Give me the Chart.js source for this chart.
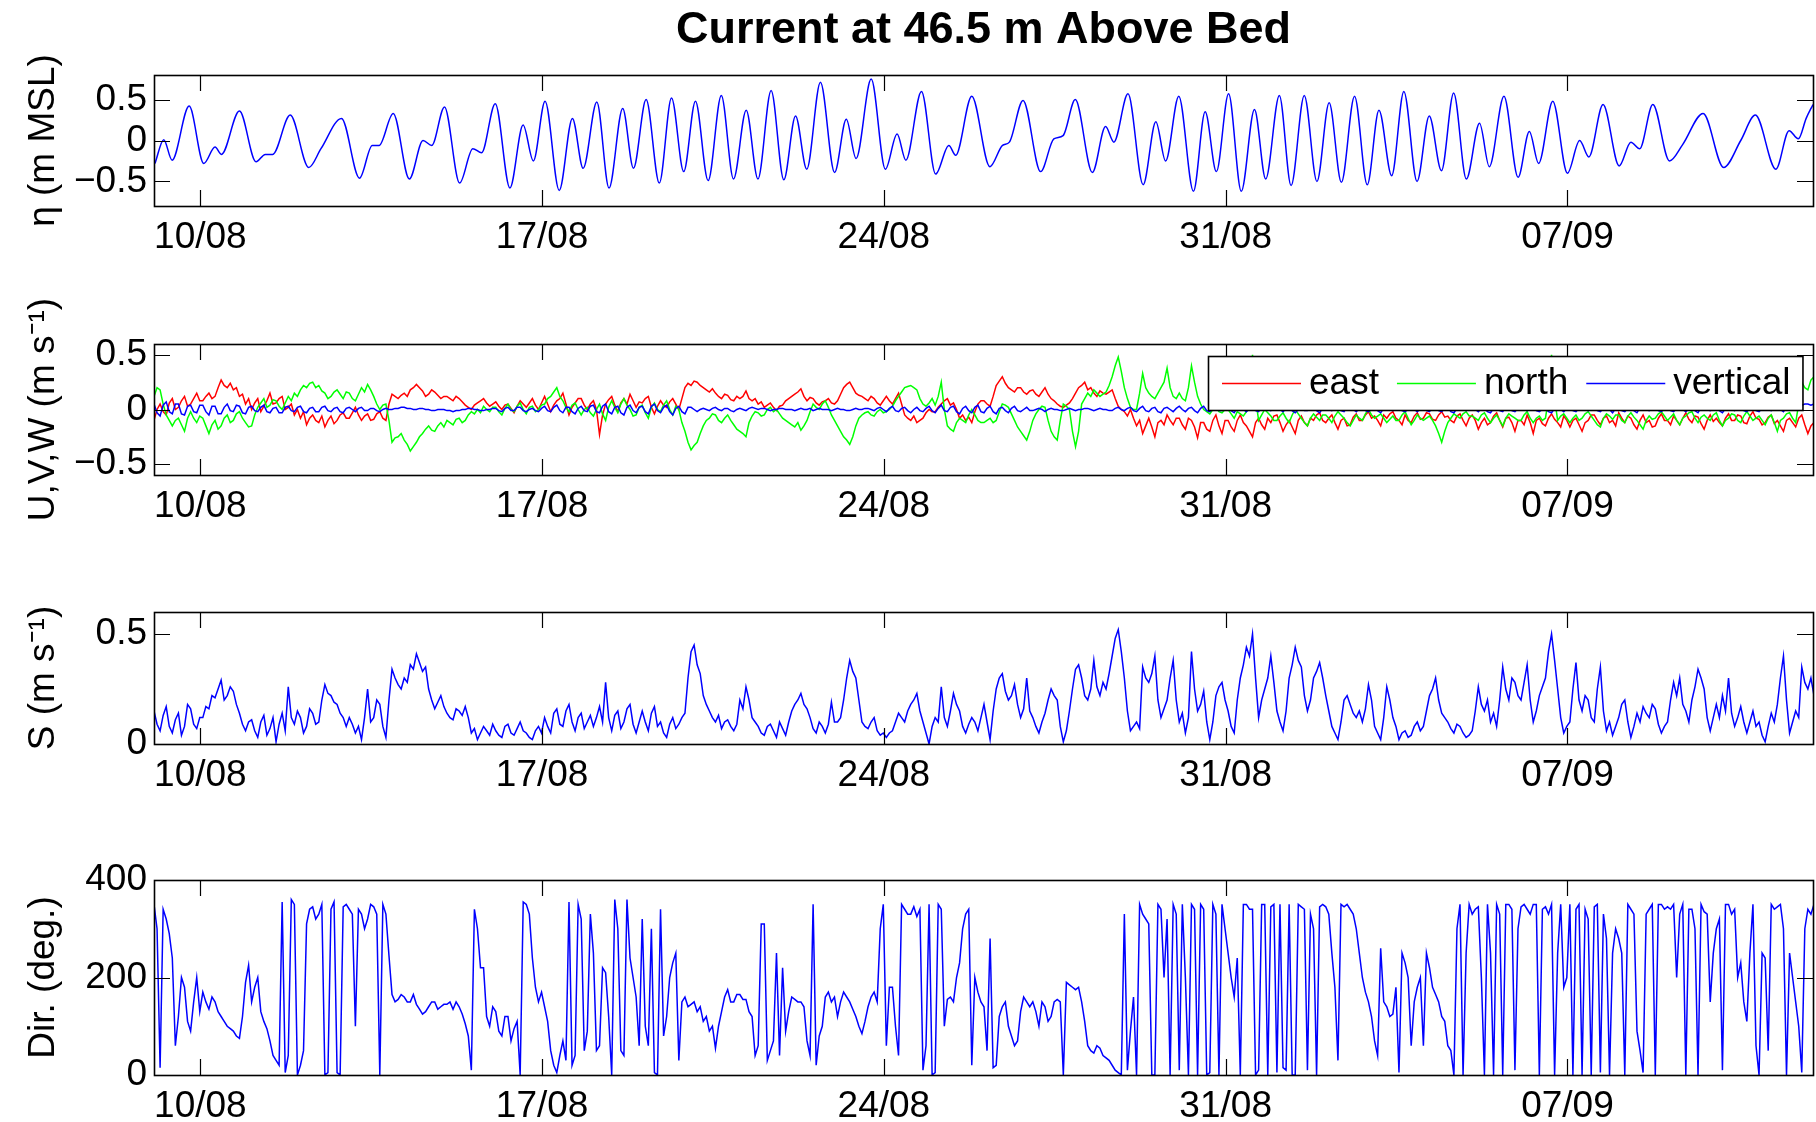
<!DOCTYPE html>
<html>
<head>
<meta charset="utf-8">
<title>Current at 46.5 m Above Bed</title>
<script src="https://cdn.jsdelivr.net/npm/chart.js@4.4.0/dist/chart.umd.min.js"></script>
<style>
  html, body { margin: 0; padding: 0; background: #fff; }
  #wrap { position: relative; width: 1816px; height: 1122px; overflow: hidden; }
  #wrap canvas { position: absolute; left: 0; }
</style>
</head>
<body>
<div id="wrap">
  <canvas id="cEta" width="1816" height="280" style="top:0px"></canvas>
  <canvas id="cUVW" width="1816" height="270" style="top:280px"></canvas>
  <canvas id="cSpd" width="1816" height="270" style="top:550px"></canvas>
  <canvas id="cDir" width="1816" height="302" style="top:820px"></canvas>
</div>
<script>
// ---- time axis (days relative to 10/08 00:00) ----
const X_MIN = -0.95;
const X_MAX = 33.03;
const tickDays = [0, 7, 14, 21, 28];
const dateLabels = ['10/08', '17/08', '24/08', '31/08', '07/09'];

// ---- sea level: successive highs / lows ----
const etaDays = [
  -0.93, -0.75, -0.58, -0.23, 0.07, 0.30, 0.43, 0.80, 1.14, 1.33, 1.48, 1.84,
  2.22, 2.47, 2.89, 3.26, 3.52, 3.66, 3.95, 4.28, 4.56, 4.74, 5.00, 5.31,
  5.58, 5.76, 6.04, 6.34, 6.61, 6.82, 7.06, 7.35, 7.62, 7.84, 8.12, 8.37,
  8.65, 8.87, 9.13, 9.40, 9.65, 9.90, 10.14, 10.40, 10.67, 10.92, 11.18, 11.42,
  11.69, 11.95, 12.19, 12.42, 12.70, 12.99, 13.23, 13.43, 13.74, 14.03, 14.27, 14.45,
  14.77, 15.06, 15.33, 15.47, 15.80, 16.17, 16.43, 16.57, 16.85, 17.21, 17.48, 17.67,
  17.92, 18.27, 18.54, 18.71, 19.00, 19.31, 19.57, 19.77, 20.04, 20.34, 20.58, 20.81,
  21.06, 21.32, 21.59, 21.82, 22.10, 22.34, 22.61, 22.87, 23.12, 23.37, 23.64, 23.90,
  24.14, 24.40, 24.65, 24.92, 25.17, 25.42, 25.67, 25.93, 26.20, 26.40, 26.70, 26.99,
  27.22, 27.41, 27.70, 28.00, 28.25, 28.44, 28.73, 29.06, 29.30, 29.48, 29.75, 30.09,
  30.36, 30.78, 31.20, 31.55, 31.85, 32.27, 32.54, 32.73, 32.89, 33.03
];
const etaValues = [
  -0.28, 0.01, -0.24, 0.42, -0.28, -0.08, -0.17, 0.36, -0.26, -0.17, -0.17, 0.31,
  -0.33, -0.10, 0.27, -0.46, -0.06, -0.06, 0.33, -0.47, 0.00, -0.06, 0.41, -0.52,
  -0.10, -0.15, 0.45, -0.58, 0.19, -0.25, 0.48, -0.61, 0.27, -0.34, 0.47, -0.58,
  0.39, -0.34, 0.50, -0.52, 0.52, -0.38, 0.48, -0.49, 0.55, -0.47, 0.37, -0.47,
  0.61, -0.48, 0.30, -0.35, 0.71, -0.39, 0.26, -0.22, 0.75, -0.35, 0.08, -0.24,
  0.60, -0.41, -0.06, -0.18, 0.54, -0.32, -0.06, -0.02, 0.49, -0.38, 0.02, 0.06,
  0.50, -0.39, 0.17, -0.02, 0.57, -0.54, 0.23, -0.25, 0.54, -0.62, 0.35, -0.38,
  0.57, -0.62, 0.38, -0.47, 0.55, -0.55, 0.55, -0.50, 0.46, -0.51, 0.54, -0.54,
  0.37, -0.43, 0.60, -0.50, 0.30, -0.37, 0.58, -0.47, 0.21, -0.32, 0.54, -0.45,
  0.11, -0.28, 0.48, -0.40, 0.00, -0.20, 0.44, -0.31, -0.02, -0.10, 0.44, -0.25,
  -0.05, 0.33, -0.33, 0.00, 0.31, -0.35, 0.12, 0.02, 0.27, 0.44
];

// ---- current records, one value every 1.5 h starting at X_MIN (one row per day) ----
const SAMPLE_START = -0.95;
const SAMPLE_STEP = 0.0625;

const eastValues = [
  -0.10, 0.00, 0.05, -0.02, -0.05, 0.06, 0.10, 0.00, 0.02, 0.08, 0.12, 0.03, 0.05, 0.10, 0.15, 0.08,
  0.08, 0.12, 0.15, 0.10, 0.12, 0.20, 0.27, 0.22, 0.20, 0.24, 0.18, 0.20, 0.12, 0.14, 0.05, 0.10,
  0.00, 0.06, 0.10, -0.02, 0.03, 0.08, 0.15, 0.05, 0.06, 0.10, 0.12, 0.00, 0.02, 0.05, -0.05, 0.00,
  -0.08, -0.02, -0.14, -0.08, -0.05, -0.10, -0.12, -0.06, -0.16, -0.10, -0.06, -0.13, -0.10, -0.05, -0.03, -0.08,
  -0.08, -0.03, 0.02, -0.05, -0.10, -0.06, -0.04, -0.10, -0.09, -0.04, -0.02, -0.08, -0.10, 0.05, 0.14, 0.12,
  0.10, 0.13, 0.15, 0.12, 0.18, 0.20, 0.23, 0.20, 0.17, 0.12, 0.14, 0.18, 0.16, 0.13, 0.10, 0.12,
  0.12, 0.10, 0.08, 0.12, 0.10, 0.07, 0.04, 0.02, 0.00, 0.04, 0.06, 0.08, 0.10, 0.06, 0.03, 0.05,
  0.07, 0.03, 0.00, 0.04, 0.05, 0.01, -0.03, 0.03, 0.08, 0.05, 0.02, 0.06, 0.10, 0.04, 0.00, 0.06,
  0.12, 0.05, -0.02, 0.04, 0.08, 0.10, 0.15, 0.05, -0.05, 0.02, 0.06, 0.10, 0.10, 0.04, 0.00, 0.05,
  0.08, 0.00, -0.23, -0.05, 0.05, 0.09, 0.12, 0.04, -0.02, 0.06, 0.10, 0.05, 0.14, 0.08, 0.02, 0.07,
  0.06, 0.10, 0.12, 0.02, -0.04, 0.03, 0.08, 0.04, 0.02, 0.07, 0.10, 0.05, 0.00, 0.10, 0.20, 0.24,
  0.22, 0.26, 0.25, 0.22, 0.20, 0.18, 0.16, 0.19, 0.15, 0.12, 0.10, 0.14, 0.13, 0.09, 0.08, 0.12,
  0.10, 0.12, 0.17, 0.10, 0.08, 0.10, 0.05, 0.07, 0.02, 0.04, 0.06, 0.02, -0.01, 0.03, 0.04, 0.08,
  0.10, 0.12, 0.14, 0.16, 0.19, 0.12, 0.08, 0.11, 0.10, 0.06, 0.04, 0.07, 0.08, 0.10, 0.06, 0.05,
  0.08, 0.14, 0.20, 0.23, 0.25, 0.20, 0.15, 0.13, 0.12, 0.10, 0.08, 0.12, 0.10, 0.06, 0.04, 0.08,
  0.12, 0.08, 0.05, 0.10, 0.15, 0.05, -0.05, -0.08, -0.10, -0.06, -0.12, -0.10, -0.08, -0.03, 0.00, -0.02,
  -0.02, 0.02, 0.05, 0.08, 0.10, 0.04, 0.06, 0.00, -0.08, -0.05, -0.10, -0.07, -0.12, -0.02, 0.05, 0.08,
  0.08, 0.05, 0.03, 0.12, 0.22, 0.26, 0.30, 0.24, 0.20, 0.18, 0.16, 0.20, 0.20, 0.16, 0.14, 0.17,
  0.18, 0.14, 0.12, 0.16, 0.20, 0.14, 0.10, 0.08, 0.05, 0.03, 0.02, 0.04, 0.06, 0.10, 0.15, 0.20,
  0.22, 0.25, 0.18, 0.20, 0.15, 0.12, 0.17, 0.15, 0.14, 0.16, 0.18, 0.10, 0.03, 0.00, -0.02, -0.06,
  0.00, -0.08, -0.15, -0.10, -0.22, -0.15, -0.08, -0.16, -0.25, -0.12, -0.10, -0.14, -0.05, -0.10, -0.14, -0.08,
  -0.08, -0.14, -0.18, -0.08, -0.10, -0.16, -0.26, -0.12, -0.12, -0.18, -0.20, -0.10, -0.05, -0.15, -0.22, -0.10,
  -0.10, -0.16, -0.20, -0.10, -0.05, -0.12, -0.15, -0.20, -0.25, -0.12, -0.08, -0.14, -0.18, -0.08, -0.12, -0.06,
  -0.05, -0.12, -0.20, -0.14, -0.10, -0.16, -0.22, -0.10, -0.06, -0.12, -0.15, -0.08, -0.10, -0.05, -0.03, -0.10,
  -0.12, -0.08, -0.05, -0.12, -0.18, -0.10, -0.08, -0.15, -0.14, -0.07, -0.04, -0.10, -0.10, -0.05, -0.02, -0.08,
  -0.06, -0.10, -0.15, -0.05, -0.08, -0.04, -0.02, -0.08, -0.10, -0.14, -0.05, -0.10, -0.12, -0.06, -0.03, -0.09,
  -0.08, -0.03, -0.04, -0.09, -0.10, -0.05, -0.02, -0.07, -0.06, -0.10, -0.12, -0.06, -0.04, -0.10, -0.15, -0.08,
  -0.05, -0.10, -0.18, -0.12, -0.08, -0.14, -0.12, -0.06, -0.03, -0.10, -0.16, -0.08, -0.07, -0.12, -0.20, -0.10,
  -0.10, -0.14, -0.05, -0.12, -0.22, -0.10, -0.08, -0.13, -0.15, -0.08, -0.04, -0.09, -0.12, -0.16, -0.06, -0.10,
  -0.16, -0.10, -0.08, -0.14, -0.20, -0.12, -0.10, -0.05, -0.05, -0.10, -0.14, -0.08, -0.06, -0.12, -0.10, -0.15,
  -0.03, -0.08, -0.12, -0.06, -0.08, -0.14, -0.18, -0.10, -0.05, -0.12, -0.10, -0.16, -0.15, -0.08, -0.04, -0.10,
  -0.10, -0.14, -0.06, -0.10, -0.14, -0.08, -0.03, -0.09, -0.12, -0.06, -0.07, -0.13, -0.18, -0.10, -0.05, -0.11,
  -0.08, -0.12, -0.15, -0.08, -0.04, -0.10, -0.10, -0.05, -0.06, -0.12, -0.13, -0.06, -0.02, -0.08, -0.09, -0.14,
  -0.12, -0.07, -0.05, -0.13, -0.10, -0.15, -0.20, -0.10, -0.08, -0.12, -0.16, -0.08, -0.05, -0.14, -0.22, -0.15,
  -0.12
];

const northValues = [
  0.12, 0.20, 0.18, 0.05, -0.05, -0.10, -0.15, -0.10, -0.08, -0.14, -0.20, -0.08, -0.02, -0.08, -0.12, -0.06,
  -0.08, -0.15, -0.22, -0.14, -0.10, -0.18, -0.15, -0.08, -0.05, -0.12, -0.10, -0.04, -0.02, -0.08, -0.12, -0.16,
  -0.15, -0.05, 0.02, 0.06, 0.10, 0.02, 0.04, 0.09, 0.08, 0.03, 0.00, 0.06, 0.12, 0.08, 0.15, 0.12,
  0.18, 0.22, 0.20, 0.24, 0.25, 0.20, 0.22, 0.17, 0.15, 0.10, 0.12, 0.16, 0.18, 0.14, 0.10, 0.16,
  0.15, 0.10, 0.08, 0.14, 0.20, 0.16, 0.23, 0.18, 0.12, 0.05, 0.00, 0.04, 0.05, -0.10, -0.30, -0.26,
  -0.25, -0.22, -0.28, -0.32, -0.38, -0.34, -0.30, -0.25, -0.22, -0.18, -0.15, -0.19, -0.20, -0.15, -0.12, -0.16,
  -0.10, -0.12, -0.14, -0.09, -0.08, -0.12, -0.10, -0.05, -0.02, -0.04, 0.00, -0.03, 0.03, 0.00, -0.02, 0.02,
  0.02, -0.02, -0.05, 0.01, 0.05, 0.00, -0.02, 0.03, 0.06, 0.00, -0.04, 0.02, 0.03, -0.02, 0.00, 0.04,
  0.05, 0.10, 0.12, 0.16, 0.20, 0.12, 0.08, 0.02, -0.02, 0.04, 0.06, 0.00, -0.05, 0.00, 0.02, -0.03,
  -0.06, 0.00, 0.05, -0.04, -0.10, 0.02, 0.08, 0.02, -0.03, 0.05, 0.10, 0.04, 0.00, -0.06, -0.05, 0.02,
  0.04, -0.03, -0.08, 0.02, 0.06, 0.00, -0.02, 0.04, 0.08, 0.00, -0.05, 0.03, 0.00, -0.12, -0.20, -0.30,
  -0.37, -0.33, -0.30, -0.22, -0.15, -0.10, -0.08, -0.04, -0.05, -0.10, -0.12, -0.08, -0.05, -0.10, -0.14, -0.18,
  -0.20, -0.22, -0.25, -0.12, -0.06, -0.02, -0.03, -0.06, -0.05, 0.00, 0.02, -0.02, 0.00, -0.04, -0.08, -0.10,
  -0.12, -0.14, -0.16, -0.12, -0.19, -0.15, -0.10, -0.02, 0.05, 0.02, 0.00, 0.05, 0.08, 0.02, -0.05, -0.10,
  -0.15, -0.20, -0.25, -0.28, -0.32, -0.25, -0.15, -0.08, -0.05, -0.03, -0.02, -0.05, -0.06, -0.02, 0.00, -0.03,
  -0.02, 0.00, 0.03, 0.08, 0.12, 0.16, 0.20, 0.21, 0.22, 0.20, 0.18, 0.10, 0.05, 0.03, 0.06, 0.10,
  0.04, 0.12, 0.25, 0.00, -0.15, -0.18, -0.20, -0.12, -0.08, -0.10, -0.12, -0.05, 0.00, -0.05, -0.10, -0.12,
  -0.12, -0.10, -0.08, -0.12, -0.10, -0.02, 0.05, 0.04, 0.02, -0.04, -0.10, -0.16, -0.20, -0.24, -0.28, -0.20,
  -0.10, -0.04, 0.00, 0.03, 0.02, -0.10, -0.20, -0.25, -0.28, -0.10, 0.05, 0.03, 0.00, -0.20, -0.34, -0.20,
  0.05, 0.10, 0.15, 0.12, 0.18, 0.15, 0.12, 0.14, 0.16, 0.22, 0.30, 0.40, 0.48, 0.35, 0.20, 0.10,
  0.02, 0.00, 0.00, 0.15, 0.33, 0.20, 0.15, 0.12, 0.10, 0.15, 0.20, 0.25, 0.38, 0.20, 0.12, 0.10,
  0.15, 0.10, 0.08, 0.20, 0.40, 0.25, 0.12, 0.05, 0.00, -0.02, -0.04, 0.00, 0.02, -0.02, -0.03, 0.00,
  0.00, -0.04, -0.08, -0.02, -0.04, -0.06, -0.02, 0.20, 0.50, 0.10, -0.10, -0.05, 0.00, -0.03, -0.06, -0.10,
  -0.10, -0.06, -0.03, -0.08, -0.12, -0.05, 0.00, -0.04, -0.08, -0.12, -0.15, -0.08, -0.04, -0.07, -0.10, -0.05,
  -0.05, -0.08, -0.12, -0.06, -0.02, -0.05, -0.08, -0.12, -0.15, -0.10, -0.05, -0.08, -0.10, -0.04, 0.00, -0.05,
  -0.08, -0.06, -0.04, -0.08, -0.12, -0.09, -0.06, -0.10, -0.10, -0.05, -0.02, -0.08, -0.14, -0.10, -0.05, -0.08,
  -0.10, -0.08, -0.06, -0.10, -0.15, -0.22, -0.30, -0.20, -0.12, -0.08, -0.04, -0.06, -0.08, -0.04, -0.02, -0.06,
  -0.06, -0.08, -0.10, -0.05, -0.03, -0.08, -0.12, -0.08, -0.05, -0.10, -0.15, -0.08, -0.04, -0.06, -0.08, -0.10,
  -0.10, -0.05, -0.02, -0.08, -0.12, -0.08, -0.06, -0.10, -0.08, 0.10, 0.50, 0.10, -0.10, -0.06, -0.04, -0.08,
  -0.12, -0.08, -0.05, -0.10, -0.08, -0.04, -0.02, -0.06, -0.10, -0.14, -0.16, -0.08, -0.04, -0.06, -0.09, -0.05,
  -0.05, -0.10, -0.12, -0.06, -0.03, -0.07, -0.10, -0.14, -0.18, -0.10, -0.06, -0.09, -0.08, -0.04, -0.02, -0.06,
  -0.10, -0.07, -0.04, -0.10, -0.14, -0.08, -0.06, -0.03, -0.02, -0.08, -0.12, -0.07, -0.05, -0.08, -0.10, -0.05,
  -0.03, -0.10, -0.15, -0.10, -0.08, -0.04, -0.05, -0.10, -0.12, -0.06, -0.02, -0.06, -0.10, -0.08, -0.06, -0.10,
  -0.14, -0.08, -0.05, -0.12, -0.20, -0.10, -0.08, -0.04, -0.03, -0.08, -0.12, 0.05, 0.25, 0.20, 0.18, 0.27,
  0.30
];

const verticalValues = [
  0.05, -0.03, -0.06, 0.04, 0.07, -0.02, -0.04, 0.05, 0.05, -0.04, -0.05, 0.03, 0.04, -0.02, -0.03, 0.04,
  0.04, -0.02, -0.05, 0.03, 0.03, -0.04, -0.04, 0.02, 0.05, -0.01, -0.02, 0.04, 0.03, -0.03, -0.04, 0.02,
  0.03, -0.01, -0.02, 0.02, 0.04, -0.02, -0.03, 0.01, 0.02, -0.03, -0.03, 0.02, 0.03, -0.01, -0.02, 0.02,
  0.03, -0.02, -0.03, 0.01, 0.02, -0.02, -0.02, 0.02, 0.03, -0.01, -0.02, 0.01, 0.02, -0.02, -0.03, 0.01,
  0.02, 0.00, -0.02, 0.01, 0.02, -0.01, -0.01, 0.01, 0.01, -0.01, -0.02, 0.00, 0.01, 0.00, 0.00, 0.01,
  0.01, 0.02, 0.02, 0.01, 0.01, 0.00, 0.00, 0.01, 0.01, 0.00, 0.00, -0.01, -0.01, 0.00, 0.00, 0.00,
  -0.01, -0.01, -0.02, -0.01, -0.01, 0.00, 0.00, 0.01, 0.01, 0.00, 0.00, -0.01, -0.01, 0.00, 0.00, 0.01,
  0.01, -0.01, -0.02, 0.01, 0.02, -0.01, -0.01, 0.02, 0.02, -0.01, -0.02, 0.00, 0.01, -0.01, -0.02, 0.01,
  0.03, -0.01, -0.02, 0.02, 0.04, -0.01, -0.03, 0.02, 0.02, -0.02, -0.04, 0.01, 0.03, -0.01, -0.02, 0.03,
  0.04, -0.02, -0.03, 0.03, 0.05, -0.02, -0.04, 0.02, 0.03, -0.03, -0.05, 0.02, 0.04, -0.01, -0.03, 0.02,
  0.03, -0.02, -0.04, 0.03, 0.05, -0.01, -0.03, 0.02, 0.04, -0.02, -0.05, 0.01, 0.03, -0.02, -0.04, 0.02,
  0.02, 0.00, -0.02, 0.00, 0.01, 0.00, -0.01, 0.01, 0.02, 0.00, -0.01, 0.01, 0.01, -0.01, -0.02, 0.00,
  0.01, 0.00, -0.01, 0.01, 0.02, 0.01, 0.00, 0.01, 0.01, 0.00, -0.01, 0.00, 0.00, 0.01, 0.01, 0.00,
  0.00, 0.00, -0.01, 0.00, 0.01, 0.00, 0.00, 0.01, -0.01, 0.00, 0.01, 0.00, 0.00, 0.00, -0.01, 0.00,
  0.01, 0.00, 0.00, -0.01, -0.01, 0.00, 0.01, 0.00, 0.00, 0.01, 0.01, 0.00, -0.01, 0.01, 0.02, 0.00,
  -0.02, 0.01, 0.03, -0.01, -0.02, 0.01, 0.02, -0.01, -0.03, 0.00, 0.02, -0.01, -0.02, 0.01, 0.03, -0.01,
  -0.03, 0.01, 0.04, -0.01, -0.02, 0.02, 0.03, -0.02, -0.04, 0.01, 0.03, -0.01, -0.03, 0.02, 0.04, -0.02,
  -0.03, 0.01, 0.03, -0.02, -0.04, 0.01, 0.02, -0.01, -0.03, 0.01, 0.03, -0.01, -0.02, 0.00, 0.02, -0.01,
  -0.01, 0.00, 0.01, 0.00, -0.02, 0.00, 0.01, 0.00, 0.00, -0.01, -0.01, 0.00, 0.01, 0.00, -0.01, 0.00,
  0.00, 0.01, 0.01, 0.00, -0.01, 0.00, 0.01, 0.00, 0.00, -0.01, -0.01, 0.01, 0.02, 0.00, -0.01, 0.01,
  0.02, -0.01, -0.02, 0.01, 0.03, -0.01, -0.02, 0.01, 0.02, -0.02, -0.03, 0.01, 0.02, 0.00, -0.02, 0.01,
  0.03, 0.00, -0.02, 0.01, 0.02, -0.01, -0.03, 0.01, 0.03, -0.01, -0.02, 0.01, 0.02, -0.01, -0.01, 0.02,
  0.02, -0.01, -0.03, 0.02, 0.03, 0.00, -0.02, 0.01, 0.01, -0.01, -0.02, 0.02, 0.03, 0.00, -0.01, 0.01,
  0.02, 0.00, -0.02, 0.01, 0.03, -0.01, -0.03, 0.00, 0.02, -0.01, -0.01, 0.01, 0.02, -0.01, -0.03, 0.01,
  0.03, 0.00, -0.01, 0.01, 0.02, -0.01, -0.02, 0.02, 0.03, 0.00, -0.02, 0.01, 0.01, -0.01, -0.02, 0.00,
  0.02, -0.01, -0.03, 0.01, 0.02, 0.00, -0.01, 0.02, 0.03, -0.01, -0.02, 0.00, 0.02, 0.00, -0.02, 0.01,
  0.01, -0.01, -0.02, 0.02, 0.03, -0.01, -0.02, 0.01, 0.02, -0.02, -0.03, 0.01, 0.02, 0.00, -0.01, 0.01,
  0.03, 0.00, -0.02, 0.01, 0.01, -0.02, -0.03, 0.01, 0.02, -0.01, -0.02, 0.02, 0.03, -0.01, -0.02, 0.01,
  0.02, 0.00, -0.01, 0.02, 0.03, -0.01, -0.02, 0.00, 0.01, -0.02, -0.03, 0.01, 0.01, 0.00, -0.02, 0.01,
  0.02, -0.01, -0.02, 0.01, 0.03, 0.00, -0.01, 0.02, 0.02, -0.01, -0.02, 0.01, 0.03, 0.00, -0.03, 0.01,
  0.01, -0.01, -0.02, 0.01, 0.02, -0.01, -0.03, 0.02, 0.03, 0.00, -0.01, 0.01, 0.02, -0.01, -0.02, 0.01,
  0.03, -0.01, -0.02, 0.01, 0.02, 0.00, -0.02, 0.01, 0.01, -0.01, -0.03, 0.02, 0.02, 0.00, -0.01, 0.01,
  0.02, -0.01, -0.03, 0.01, 0.03, 0.00, -0.01, 0.02, 0.02, -0.01, -0.02, 0.01, 0.03, -0.01, -0.02, 0.01,
  0.02, 0.00, -0.01, 0.01, 0.03, 0.00, -0.02, 0.02, 0.02, 0.03, 0.03, 0.04, 0.04, 0.05, 0.05, 0.04,
  0.05
];

const speedValues = [
  0.15, 0.09, 0.06, 0.13, 0.17, 0.08, 0.05, 0.11, 0.14, 0.04, 0.08, 0.18, 0.16, 0.09, 0.07, 0.12,
  0.12, 0.17, 0.16, 0.22, 0.21, 0.25, 0.29, 0.20, 0.22, 0.26, 0.24, 0.18, 0.14, 0.09, 0.06, 0.10,
  0.11, 0.06, 0.03, 0.10, 0.13, 0.04, 0.07, 0.12, 0.01, 0.09, 0.14, 0.06, 0.26, 0.12, 0.09, 0.15,
  0.12, 0.05, 0.08, 0.16, 0.14, 0.09, 0.10, 0.20, 0.27, 0.23, 0.22, 0.19, 0.18, 0.14, 0.12, 0.08,
  0.12, 0.09, 0.05, 0.08, 0.02, 0.12, 0.25, 0.10, 0.12, 0.20, 0.18, 0.08, 0.03, 0.20, 0.34, 0.30,
  0.27, 0.25, 0.30, 0.28, 0.36, 0.34, 0.41, 0.37, 0.33, 0.35, 0.25, 0.20, 0.16, 0.19, 0.22, 0.17,
  0.14, 0.12, 0.11, 0.16, 0.15, 0.13, 0.17, 0.12, 0.05, 0.07, 0.02, 0.05, 0.08, 0.06, 0.04, 0.09,
  0.06, 0.04, 0.03, 0.08, 0.09, 0.05, 0.04, 0.07, 0.10, 0.06, 0.05, 0.03, 0.02, 0.06, 0.08, 0.05,
  0.12, 0.08, 0.05, 0.14, 0.16, 0.09, 0.08, 0.15, 0.18, 0.10, 0.06, 0.12, 0.14, 0.07, 0.10, 0.13,
  0.08, 0.12, 0.17, 0.10, 0.28, 0.12, 0.06, 0.13, 0.15, 0.07, 0.10, 0.16, 0.18, 0.09, 0.05, 0.10,
  0.15, 0.10, 0.06, 0.14, 0.17, 0.08, 0.10, 0.05, 0.03, 0.09, 0.12, 0.07, 0.09, 0.12, 0.14, 0.30,
  0.42, 0.45, 0.36, 0.32, 0.22, 0.18, 0.15, 0.12, 0.10, 0.13, 0.07, 0.10, 0.11, 0.08, 0.06, 0.09,
  0.20, 0.16, 0.26, 0.20, 0.12, 0.10, 0.08, 0.05, 0.04, 0.08, 0.09, 0.06, 0.03, 0.10, 0.07, 0.04,
  0.10, 0.15, 0.18, 0.20, 0.23, 0.18, 0.16, 0.12, 0.07, 0.05, 0.10, 0.08, 0.05, 0.09, 0.19, 0.10,
  0.10, 0.12, 0.20, 0.30, 0.38, 0.33, 0.30, 0.20, 0.10, 0.08, 0.07, 0.10, 0.12, 0.06, 0.04, 0.05,
  0.03, 0.05, 0.06, 0.10, 0.14, 0.12, 0.10, 0.15, 0.18, 0.20, 0.23, 0.15, 0.10, 0.05, 0.00, 0.08,
  0.12, 0.10, 0.26, 0.12, 0.08, 0.15, 0.23, 0.18, 0.15, 0.08, 0.05, 0.09, 0.12, 0.10, 0.06, 0.12,
  0.18, 0.10, 0.02, 0.15, 0.25, 0.30, 0.32, 0.24, 0.20, 0.22, 0.27, 0.18, 0.12, 0.16, 0.30, 0.15,
  0.12, 0.08, 0.05, 0.10, 0.14, 0.20, 0.25, 0.22, 0.20, 0.08, 0.01, 0.06, 0.15, 0.25, 0.34, 0.36,
  0.30, 0.22, 0.20, 0.25, 0.38, 0.26, 0.22, 0.28, 0.25, 0.32, 0.40, 0.48, 0.52, 0.42, 0.30, 0.15,
  0.06, 0.08, 0.10, 0.07, 0.35, 0.30, 0.28, 0.32, 0.40, 0.20, 0.12, 0.16, 0.20, 0.30, 0.38, 0.20,
  0.10, 0.14, 0.05, 0.12, 0.42, 0.25, 0.15, 0.18, 0.24, 0.10, 0.02, 0.10, 0.22, 0.26, 0.28, 0.20,
  0.15, 0.08, 0.05, 0.20, 0.30, 0.36, 0.44, 0.40, 0.50, 0.30, 0.12, 0.20, 0.25, 0.30, 0.40, 0.28,
  0.15, 0.10, 0.06, 0.15, 0.30, 0.36, 0.44, 0.38, 0.35, 0.22, 0.15, 0.20, 0.30, 0.33, 0.37, 0.30,
  0.22, 0.15, 0.08, 0.05, 0.02, 0.10, 0.20, 0.22, 0.18, 0.14, 0.12, 0.15, 0.10, 0.16, 0.27, 0.20,
  0.08, 0.05, 0.02, 0.12, 0.26, 0.20, 0.12, 0.08, 0.02, 0.05, 0.06, 0.03, 0.04, 0.08, 0.10, 0.06,
  0.08, 0.15, 0.22, 0.25, 0.30, 0.20, 0.14, 0.12, 0.10, 0.07, 0.05, 0.09, 0.08, 0.05, 0.03, 0.04,
  0.06, 0.15, 0.26, 0.18, 0.15, 0.20, 0.10, 0.14, 0.08, 0.20, 0.35, 0.25, 0.20, 0.30, 0.28, 0.22,
  0.20, 0.28, 0.36, 0.20, 0.10, 0.15, 0.22, 0.26, 0.30, 0.42, 0.50, 0.38, 0.25, 0.12, 0.05, 0.08,
  0.10, 0.25, 0.37, 0.20, 0.15, 0.22, 0.20, 0.12, 0.10, 0.25, 0.35, 0.15, 0.06, 0.10, 0.04, 0.08,
  0.12, 0.18, 0.20, 0.10, 0.03, 0.08, 0.14, 0.10, 0.17, 0.14, 0.12, 0.18, 0.16, 0.09, 0.05, 0.08,
  0.10, 0.20, 0.28, 0.22, 0.30, 0.18, 0.15, 0.10, 0.20, 0.26, 0.34, 0.30, 0.25, 0.12, 0.06, 0.12,
  0.18, 0.12, 0.22, 0.15, 0.30, 0.14, 0.08, 0.12, 0.17, 0.10, 0.05, 0.10, 0.15, 0.08, 0.10, 0.04,
  0.01, 0.08, 0.14, 0.10, 0.18, 0.30, 0.40, 0.20, 0.05, 0.10, 0.15, 0.12, 0.35, 0.28, 0.25, 0.30,
  0.22
];

const directionValues = [
  350, 300, 15, 340, 320, 290, 240, 60, 120, 200, 180, 110, 90, 150, 200, 130,
  170, 150, 135, 160, 150, 130, 120, 110, 100, 95, 90, 80, 75, 120, 190, 225,
  150, 180, 200, 130, 110, 95, 70, 40, 30, 20, 355, 5, 40, 360, 350, 0,
  20, 50, 310, 340, 345, 320, 330, 350, 0, 5, 340, 355, 5, 0, 345, 350,
  340, 330, 100, 340, 330, 300, 320, 350, 345, 330, 0, 350, 330, 245, 165, 150,
  155, 165, 160, 150, 150, 165, 145, 135, 125, 130, 140, 150, 150, 135, 140, 145,
  145, 150, 135, 150, 140, 125, 105, 80, 10, 340, 300, 220, 220, 120, 100, 140,
  130, 90, 80, 120, 120, 70, 95, 110, 0, 355, 350, 330, 240, 180, 150, 170,
  140, 110, 50, 20, 5, 40, 70, 30, 355, 20, 40, 350, 320, 50, 90, 330,
  250, 50, 60, 220, 210, 120, 0, 360, 300, 50, 40, 360, 240, 200, 160, 60,
  320, 100, 60, 300, 5, 0, 340, 80, 120, 200, 230, 250, 30, 150, 160, 140,
  145, 150, 130, 140, 110, 120, 90, 100, 55, 100, 130, 160, 175, 150, 150, 165,
  165, 155, 155, 130, 120, 40, 60, 310, 310, 30, 50, 70, 250, 40, 220, 90,
  130, 160, 155, 150, 150, 140, 70, 40, 350, 20, 80, 100, 160, 170, 150, 160,
  120, 150, 170, 160, 150, 135, 120, 100, 85, 110, 140, 160, 170, 150, 300, 350,
  60, 180, 180, 100, 40, 350, 340, 330, 330, 345, 325, 340, 10, 60, 350, 0,
  5, 350, 340, 100, 155, 160, 150, 200, 230, 300, 330, 340, 20, 200, 170, 150,
  140, 50, 280, 15, 20, 120, 140, 150, 100, 80, 60, 70, 130, 160, 150, 140,
  150, 130, 100, 150, 140, 110, 120, 150, 155, 150, 0, 190, 185, 180, 175, 180,
  150, 110, 60, 50, 45, 60, 55, 40, 35, 30, 20, 10, 5, 0, 330, 10,
  90, 160, 0, 350, 330, 320, 310, 0, 0, 350, 340, 200, 320, 0, 350, 330,
  10, 350, 200, 0, 350, 340, 0, 350, 340, 0, 5, 350, 330, 0, 350, 300,
  250, 200, 160, 240, 0, 350, 350, 340, 340, 0, 10, 350, 350, 0, 345, 350,
  5, 350, 15, 10, 350, 0, 0, 350, 345, 340, 10, 330, 300, 0, 345, 350,
  345, 330, 250, 180, 30, 350, 345, 350, 340, 330, 300, 250, 200, 170, 150, 120,
  70, 40, 260, 150, 140, 120, 125, 180, 5, 250, 230, 200, 60, 150, 180, 200,
  60, 250, 220, 180, 165, 150, 120, 110, 60, 50, 0, 300, 350, 0, 250, 350,
  330, 340, 345, 200, 0, 350, 250, 0, 350, 330, 0, 350, 350, 340, 10, 300,
  345, 350, 340, 330, 350, 350, 0, 340, 345, 330, 350, 0, 250, 350, 180, 200,
  350, 0, 340, 350, 0, 340, 320, 0, 345, 350, 5, 330, 280, 0, 250, 300,
  280, 250, 0, 350, 340, 330, 90, 50, 5, 330, 340, 350, 0, 350, 350, 340,
  345, 340, 350, 200, 330, 350, 0, 340, 340, 300, 0, 350, 335, 330, 150, 250,
  300, 320, 10, 350, 350, 330, 340, 200, 230, 150, 110, 250, 350, 60, 0, 250,
  240, 50, 350, 340, 345, 350, 300, 0, 250, 200, 150, 100, 5, 300, 340, 330,
  350
];

// ---- y-axis ticks per panel ----
const etaTicks = [-0.5, 0, 0.5];
const uvwTicks = [-0.5, 0, 0.5];
const speedTicks = [0, 0.5];
const dirTicks = [0, 200, 400];

// ---- drawing ----
const FAMILY = "'Liberation Sans', Arial, Helvetica, sans-serif";
const FS = 37;
const TICK_LEN = 16;
const LINE_W = 1.5;
Chart.defaults.font.family = FAMILY;
Chart.defaults.color = '#000';

const sampled = vals => vals.map((v, i) => ({ x: SAMPLE_START + i * SAMPLE_STEP, y: v }));
const fmtNum = v => String(v).replace('-', '\u2212');

// axes box with inward ticks on all four sides
const framePlugin = {
  id: 'frame',
  afterDatasetsDraw(chart) {
    const { ctx, chartArea: a, scales: { x, y } } = chart;
    ctx.save();
    ctx.strokeStyle = '#000';
    ctx.lineWidth = 1.2;
    ctx.beginPath();
    x.ticks.forEach(t => {
      const px = Math.round(x.getPixelForValue(t.value)) + 0.5;
      ctx.moveTo(px, a.top); ctx.lineTo(px, a.top + TICK_LEN);
      ctx.moveTo(px, a.bottom); ctx.lineTo(px, a.bottom - TICK_LEN);
    });
    y.ticks.forEach(t => {
      const py = Math.round(y.getPixelForValue(t.value)) + 0.5;
      ctx.moveTo(a.left, py); ctx.lineTo(a.left + TICK_LEN, py);
      ctx.moveTo(a.right, py); ctx.lineTo(a.right - TICK_LEN, py);
    });
    ctx.stroke();
    ctx.lineWidth = 1.6;
    ctx.strokeRect(Math.round(a.left) + 0.5, Math.round(a.top) + 0.5,
                   Math.round(a.right - a.left), Math.round(a.bottom - a.top));
    ctx.restore();
  }
};

// boxed horizontal legend in the upper-right corner of the axes
const boxLegendPlugin = {
  id: 'boxLegend',
  afterDraw(chart, args, opts) {
    if (!opts || !opts.show) return;
    const { ctx, chartArea: a } = chart;
    ctx.save();
    ctx.font = `${FS}px ${FAMILY}`;
    const items = chart.data.datasets.map(d => ({ label: d.label, color: d.borderColor }));
    const lineLen = 79, gapText = 8, gapItem = 18, padL = 14, padR = 12, h = 54;
    let w = padL + padR;
    items.forEach((it, i) => {
      w += lineLen + gapText + ctx.measureText(it.label).width + (i ? gapItem : 0);
    });
    const x0 = Math.round(a.right - 11 - w), y0 = Math.round(a.top + 12);
    ctx.fillStyle = '#fff';
    ctx.fillRect(x0, y0, w, h);
    ctx.strokeStyle = '#000';
    ctx.lineWidth = 1.6;
    ctx.strokeRect(x0 + 0.5, y0 + 0.5, w, h);
    const cy = y0 + h / 2;
    let x = x0 + padL;
    items.forEach((it, i) => {
      if (i) x += gapItem;
      ctx.strokeStyle = it.color;
      ctx.lineWidth = 1.4;
      ctx.beginPath();
      ctx.moveTo(x, cy + 0.5); ctx.lineTo(x + lineLen, cy + 0.5);
      ctx.stroke();
      x += lineLen + gapText;
      ctx.fillStyle = '#000';
      ctx.textBaseline = 'middle';
      ctx.textAlign = 'left';
      ctx.fillText(it.label, x, cy + 1);
      x += ctx.measureText(it.label).width;
    });
    ctx.restore();
  }
};

function makePanel(canvasId, cfg) {
  const xAxisHeight = cfg.xAxisHeight;
  return new Chart(document.getElementById(canvasId), {
    type: 'line',
    data: { datasets: cfg.datasets },
    plugins: [framePlugin, boxLegendPlugin],
    options: {
      responsive: false,
      animation: false,
      devicePixelRatio: 1,
      layout: { padding: { top: cfg.padTop, right: 3, left: 0, bottom: 0 } },
      elements: { point: { radius: 0 }, line: { borderWidth: LINE_W } },
      plugins: {
        legend: { display: false },
        tooltip: { enabled: false },
        title: cfg.title || { display: false },
        boxLegend: { show: !!cfg.showLegend }
      },
      scales: {
        x: {
          type: 'linear', bounds: 'data', min: X_MIN, max: X_MAX,
          grid: { display: false, drawTicks: false },
          border: { display: false },
          afterBuildTicks: s => { s.ticks = tickDays.map(v => ({ value: v })); },
          ticks: {
            autoSkip: false, maxRotation: 0, padding: 10,
            font: { size: FS }, color: '#000',
            callback: (v, i) => dateLabels[i]
          },
          afterFit: s => { s.height = xAxisHeight; }
        },
        y: {
          type: 'linear', bounds: 'data', min: cfg.yMin, max: cfg.yMax,
          grid: { display: false, drawTicks: false },
          border: { display: false },
          afterBuildTicks: s => { s.ticks = cfg.yTicks.map(v => ({ value: v })); },
          ticks: {
            autoSkip: false, padding: 7,
            font: { size: FS }, color: '#000',
            callback: v => fmtNum(v)
          },
          title: {
            display: true, text: cfg.yTitle, color: '#000',
            font: { size: FS }, padding: { top: 22, bottom: 0 }
          },
          afterFit: s => { s.width = 154; }
        }
      }
    }
  });
}

makePanel('cEta', {
  padTop: 0, xAxisHeight: 74,
  title: {
    display: true, text: 'Current at 46.5 m Above Bed', fullSize: false,
    color: '#000', font: { size: 45, weight: 'bold' }, padding: { top: 4, bottom: 17 }
  },
  yMin: -0.8, yMax: 0.8, yTicks: etaTicks, yTitle: '\u03b7 (m MSL)',
  datasets: [{
    label: '\u03b7', borderColor: '#0000ff',
    cubicInterpolationMode: 'monotone',
    data: etaDays.map((d, i) => ({ x: d, y: etaValues[i] }))
  }]
});

makePanel('cUVW', {
  padTop: 64, xAxisHeight: 75, showLegend: true,
  yMin: -0.6, yMax: 0.6, yTicks: uvwTicks, yTitle: 'U,V,W (m s\u207b\u00b9)',
  datasets: [
    { label: 'east', borderColor: '#ff0000', order: 3, data: sampled(eastValues) },
    { label: 'north', borderColor: '#00ff00', order: 2, data: sampled(northValues) },
    { label: 'vertical', borderColor: '#0000ff', order: 1, data: sampled(verticalValues) }
  ]
});

makePanel('cSpd', {
  padTop: 62, xAxisHeight: 76,
  yMin: 0, yMax: 0.6, yTicks: speedTicks, yTitle: 'S (m s\u207b\u00b9)',
  datasets: [{ label: 'S', borderColor: '#0000ff', data: sampled(speedValues) }]
});

makePanel('cDir', {
  padTop: 60, xAxisHeight: 47,
  yMin: 0, yMax: 400, yTicks: dirTicks, yTitle: 'Dir. (deg.)',
  datasets: [{ label: 'Dir', borderColor: '#0000ff', data: sampled(directionValues) }]
});
</script>
</body>
</html>
